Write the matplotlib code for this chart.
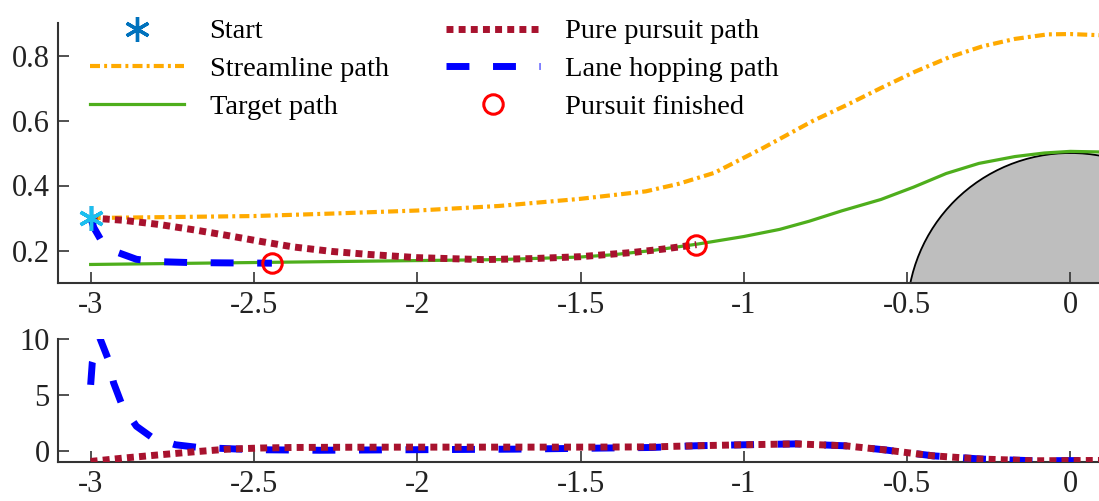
import numpy as np
import matplotlib
matplotlib.use('Agg')
import matplotlib.pyplot as plt
from matplotlib.patches import Circle

plt.rcParams['font.family'] = ['Liberation Serif', 'DejaVu Serif']
plt.rcParams['axes.unicode_minus'] = False

# ====================== Données ======================

# Trajectoire cible (vert)
x_cible = [-3.0, -2.75, -2.5, -2.25, -2.0, -1.75, -1.5, -1.4, -1.28, -1.14, -1.0, -0.89, -0.8,
           -0.7, -0.58, -0.48, -0.38, -0.28, -0.17, -0.08, 0.0, 0.1]
y_cible = [0.157, 0.160, 0.163, 0.166, 0.169, 0.172, 0.180, 0.187, 0.200, 0.220, 0.243, 0.265, 0.290,
           0.322, 0.357, 0.395, 0.437, 0.468, 0.489, 0.500, 0.505, 0.503]

# Ligne de courant (orange)
x_courant = [-3.0, -2.75, -2.5, -2.25, -2.0, -1.75, -1.5, -1.3, -1.2, -1.09, -0.94, -0.79, -0.68,
             -0.58, -0.476, -0.37, -0.27, -0.17, -0.07, 0.0, 0.1]
y_courant = [0.300, 0.303, 0.306, 0.314, 0.323, 0.337, 0.359, 0.382, 0.405, 0.439, 0.516, 0.598, 0.650,
             0.700, 0.750, 0.795, 0.828, 0.851, 0.865, 0.866, 0.862]

# Poursuite pure (rouge foncé)
x_poursuite = [-3.0, -2.9, -2.79, -2.68, -2.58, -2.48, -2.38, -2.26, -2.15, -2.0, -1.8, -1.65, -1.5,
               -1.34, -1.25, -1.145]
y_poursuite = [0.300, 0.293, 0.280, 0.263, 0.246, 0.228, 0.211, 0.197, 0.188, 0.178, 0.172, 0.175, 0.181,
               0.194, 0.204, 0.218]

# Saut de voie (bleu)
x_saut = [-3.0, -2.99, -2.97, -2.94, -2.92, -2.86, -2.8, -2.7, -2.6, -2.445]
y_saut = [0.300, 0.270, 0.235, 0.210, 0.195, 0.173, 0.166, 0.163, 0.162, 0.161]

# Points de fin de poursuite
x_fin = [-2.445, -1.145]
y_fin = [0.161, 0.218]

x_depart, y_depart = -3.0, 0.3

# Graphique du bas
x_bas_poursuite = [-3.0, -2.9, -2.79, -2.68, -2.58, -2.48, -2.38, -2.2, -2.0, -1.7, -1.5, -1.28, -1.15,
                   -1.0, -0.84, -0.69, -0.57, -0.42, -0.27, -0.11, 0.1]
y_bas_poursuite = [-0.95, -0.65, -0.36, -0.08, 0.15, 0.25, 0.30, 0.32, 0.33, 0.33, 0.33, 0.35, 0.45,
                   0.54, 0.62, 0.45, 0.09, -0.45, -0.74, -0.89, -0.86]

x_bas_saut = [-3.0, -2.995, -2.972, -2.945, -2.93, -2.904, -2.86, -2.81, -2.74, -2.67, -2.5, -2.3, -2.0,
              -1.7, -1.28, -1.15, -1.0, -0.84, -0.69, -0.57, -0.42, -0.27, -0.11, 0.1]
y_bas_saut = [5.9, 7.9, 10.1, 8.1, 6.1, 4.1, 2.2, 1.15, 0.54, 0.30, 0.10, 0.05, 0.10,
              0.15, 0.30, 0.45, 0.54, 0.62, 0.45, 0.09, -0.45, -0.74, -0.89, -0.86]

xticks = [-3, -2.5, -2, -1.5, -1, -0.5, 0]
xticklabels = ['-3', '-2.5', '-2', '-1.5', '-1', '-0.5', '0']

# ====================== Couleurs et styles ======================

c_orange = '#FFAA00'
c_vert = '#4EAE1C'
c_rouge = '#A8122E'
c_bleu = '#0000FF'
c_depart = '#0072BD'
c_cyan = '#1CBFEF'

style_courant = (0, (2.4, 1.0, 0.7, 1.0))
style_poursuite = (0, (1.0, 0.75))
style_saut = (0, (3.3, 3.4))

# ====================== Figure ======================

W, H = 1099, 501
fig = plt.figure(figsize=(W / 100, H / 100), dpi=100)
ax1 = fig.add_axes([58 / W, (H - 283) / H, 1045 / W, 260 / H])
ax2 = fig.add_axes([58 / W, (H - 462) / H, 1045 / W, 123 / H])

# Obstacle (demi-disque gris)
ax1.add_patch(Circle((0, 0), 0.5, facecolor='#BEBEBE', edgecolor='black', linewidth=1.3, zorder=1))

l_courant, = ax1.plot(x_courant, y_courant, color=c_orange, lw=3, linestyle=style_courant, zorder=2)
l_cible, = ax1.plot(x_cible, y_cible, color=c_vert, lw=2.3, zorder=3)
l_poursuite, = ax1.plot(x_poursuite, y_poursuite, color=c_rouge, lw=5, linestyle=style_poursuite, zorder=4)
l_saut, = ax1.plot(x_saut, y_saut, color=c_bleu, lw=5, linestyle=style_saut, zorder=5)
l_fin, = ax1.plot(x_fin, y_fin, linestyle='none', marker='o', markersize=14, markerfacecolor='none',
                  markeredgecolor='red', markeredgewidth=2.2, zorder=6)
l_depart, = ax1.plot([x_depart], [y_depart], linestyle='none', marker=(6, 2, 0), markersize=18,
                     markeredgecolor=c_depart, markeredgewidth=2.4, zorder=6)
ax1.plot([x_depart], [y_depart], linestyle='none', marker=(6, 2, 0), markersize=18,
         markeredgecolor=c_cyan, markeredgewidth=2.4, zorder=7)

ax1.set_xlim(-3.1, 0.1)
ax1.set_ylim(0.1, 0.9)
ax1.set_yticks([0.2, 0.4, 0.6, 0.8])
ax1.set_yticklabels(['0.2', '0.4', '0.6', '0.8'])

ax2.plot(x_bas_saut, y_bas_saut, color=c_bleu, lw=5, linestyle=style_saut, zorder=3)
ax2.plot(x_bas_poursuite, y_bas_poursuite, color=c_rouge, lw=5, linestyle=style_poursuite, zorder=4)
ax2.set_xlim(-3.1, 0.1)
ax2.set_ylim(-1, 10)
ax2.set_yticks([0, 5, 10])
ax2.set_yticklabels(['0', '5', '10'])

for ax in (ax1, ax2):
    ax.set_xticks(xticks)
    ax.set_xticklabels(xticklabels)
    for cote in ('top', 'right'):
        ax.spines[cote].set_visible(False)
    for cote in ('left', 'bottom'):
        ax.spines[cote].set_color('#333333')
        ax.spines[cote].set_linewidth(1.5)
    ax.tick_params(direction='in', length=8, width=1.2, color='#333333', labelsize=22,
                   labelcolor='#222222', pad=6)

# Légende sur deux colonnes
poignees = [l_depart, l_courant, l_cible, l_poursuite, l_saut, l_fin]
etiquettes = ['Start', 'Streamline path', 'Target path', 'Pure pursuit path', 'Lane hopping path',
              'Pursuit finished']
ax1.legend(poignees, etiquettes, loc='upper left', bbox_to_anchor=(90 / W, 0.963),
           bbox_transform=fig.transFigure, ncol=2, frameon=False, fontsize=20.5,
           handlelength=3.3, handletextpad=0.9, columnspacing=2.0, labelspacing=0.42,
           borderpad=0, borderaxespad=0)

fig.savefig('out.png', dpi=100)
